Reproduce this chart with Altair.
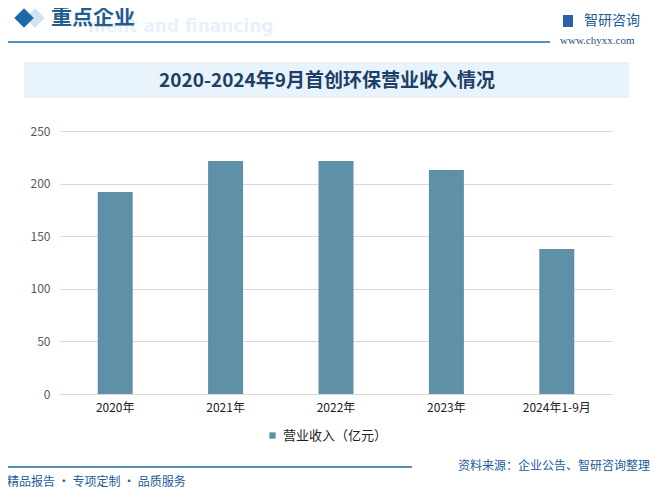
import altair as alt
import pandas as pd

categories = ["2020年", "2021年", "2022年", "2023年", "2024年1-9月"]
revenue = [192.0, 221.5, 221.5, 212.9, 137.8]
series_name = "营业收入（亿元）"
y_ticks = [0, 50, 100, 150, 200, 250]

FONT = "Noto Sans CJK SC"
df = pd.DataFrame({"cat": categories, "val": revenue, "series": [series_name] * len(categories)})
one = pd.DataFrame({"k": [0]})

# plot origin (page coords) = (60, 131); values below are relative to it
OX, OY = 60, 131

def px(x):
    return x - OX

def py(y):
    return y - OY

bars = alt.Chart(df).mark_bar(size=35).encode(
    x=alt.X("cat:N", sort=categories, title=None,
            scale=alt.Scale(paddingInner=0.68, paddingOuter=0.34),
            axis=alt.Axis(labelAngle=0, labelFont=FONT, labelFontSize=12, labelColor="#222222",
                          labelPadding=8, ticks=False, domainColor="#d9d9d9", grid=False)),
    y=alt.Y("val:Q", title=None,
            scale=alt.Scale(domain=[0, 250], nice=False),
            axis=alt.Axis(values=y_ticks, labelFont=FONT, labelFontSize=12, labelColor="#595959",
                          labelPadding=10, ticks=False, domain=False, gridColor="#d9d9d9")),
    color=alt.Color("series:N", scale=alt.Scale(range=["#5e91a7"]),
                    legend=alt.Legend(title=None, orient="none", legendX=px(266), legendY=py(429),
                                      symbolType="square", symbolSize=40, labelFont=FONT,
                                      labelFontSize=13, labelColor="#222222", symbolStrokeWidth=0)),
)

title_band = alt.Chart(one).mark_rect(color="#e8f3fb").encode(
    x=alt.value(px(24)), x2=alt.value(px(629)), y=alt.value(py(62)), y2=alt.value(py(98)))
title_txt = alt.Chart(one).mark_text(text="2020-2024年9月首创环保营业收入情况", font=FONT,
                                     fontSize=19, fontWeight="bold", color="#1b3f66",
                                     align="center", baseline="middle").encode(
    x=alt.value(px(327)), y=alt.value(py(81)))

diamond_light = alt.Chart(one).mark_point(shape="diamond", filled=True, size=380, color="#cfe3f1", opacity=1).encode(
    x=alt.value(px(35)), y=alt.value(py(18)))
diamond_dark = alt.Chart(one).mark_point(shape="diamond", filled=True, size=380, color="#1f6aa5", opacity=1).encode(
    x=alt.value(px(24)), y=alt.value(py(18)))
header_ghost = alt.Chart(one).mark_text(text="ment and financing", font="DejaVu Sans", fontSize=17,
                                        fontWeight="bold", color="#e8f1f8", align="left",
                                        baseline="middle").encode(
    x=alt.value(px(88)), y=alt.value(py(27)))
header_txt = alt.Chart(one).mark_text(text="重点企业", font=FONT, fontSize=21, fontWeight="bold",
                                      color="#1f5e8f", align="left", baseline="middle").encode(
    x=alt.value(px(51)), y=alt.value(py(18)))
header_line = alt.Chart(one).mark_rule(color="#1d6aa0", strokeWidth=1.5).encode(
    x=alt.value(px(5)), x2=alt.value(px(550)), y=alt.value(py(42)))

logo_a = alt.Chart(one).mark_rect(color="#2b5fa8").encode(
    x=alt.value(px(563)), x2=alt.value(px(573)), y=alt.value(py(15)), y2=alt.value(py(27)))
logo_txt = alt.Chart(one).mark_text(text="智研咨询", font=FONT, fontSize=14, color="#1d5c9a",
                                    align="left", baseline="middle").encode(
    x=alt.value(px(584)), y=alt.value(py(21)))
url_txt = alt.Chart(one).mark_text(text="www.chyxx.com", font="Liberation Serif", fontSize=11,
                                   color="#2a4f7a", align="left", baseline="middle").encode(
    x=alt.value(px(560)), y=alt.value(py(41)))

footer_line = alt.Chart(one).mark_rule(color="#1d6aa0", strokeWidth=1.5).encode(
    x=alt.value(px(5)), x2=alt.value(px(412)), y=alt.value(py(467)))
footer_left = alt.Chart(one).mark_text(text="精品报告 · 专项定制 · 品质服务", font=FONT, fontSize=12,
                                       color="#1d5c9a", align="left", baseline="middle").encode(
    x=alt.value(px(7)), y=alt.value(py(482)))
footer_right = alt.Chart(one).mark_text(text="资料来源：企业公告、智研咨询整理", font=FONT, fontSize=12,
                                        color="#1d5c9a", align="right", baseline="middle").encode(
    x=alt.value(px(650)), y=alt.value(py(466)))

chart = alt.layer(
    title_band, header_ghost, header_line, diamond_light, diamond_dark, header_txt,
    logo_a, logo_txt, url_txt, title_txt, bars, footer_line, footer_left, footer_right
).properties(
    width=552, height=263,
    background="white",
    autosize=alt.AutoSizeParams(type="none"),
    padding={"left": OX - 8, "top": OY - 8, "right": 644 - 552 - (OX - 8), "bottom": 486 - 263 - (OY - 8)},
).configure_view(stroke=None, strokeWidth=0)

chart.save("out.html", embed_options={"renderer": "svg", "actions": False})
